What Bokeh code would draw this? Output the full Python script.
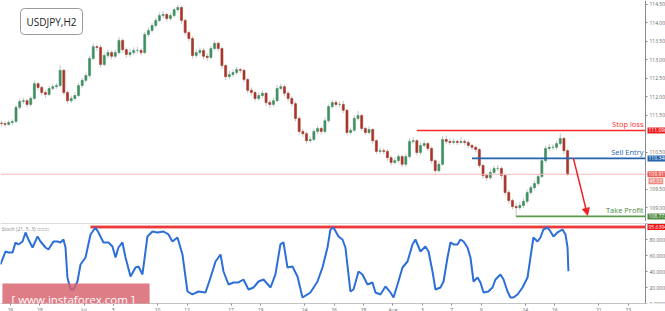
from bokeh.plotting import figure
from bokeh.layouts import column
from bokeh.models import (Range1d, FixedTicker, Label, Arrow, NormalHead, LinearAxis,
                          ColumnDataSource, NumeralTickFormatter, Span)
from bokeh.embed import file_html
from bokeh.resources import INLINE

# ---------------- data (USDJPY, H2 - sampled) ----------------
first_open = 111.30
closes = [111.28, 111.26, 111.31, 111.34, 111.72, 111.88, 111.90, 111.80, 111.96, 112.36,
          112.26, 112.12, 112.07, 112.23, 112.28, 112.31, 112.72, 112.12, 111.90, 111.96,
          112.04, 112.31, 112.45, 112.58, 113.04, 113.36, 113.34, 112.88, 113.12, 113.20,
          113.10, 113.20, 113.53, 113.28, 113.15, 113.20, 113.26, 113.26, 113.20, 113.69,
          113.80, 113.93, 114.07, 114.20, 114.23, 114.12, 114.20, 114.36, 114.42, 114.07,
          113.74, 113.58, 113.12, 113.20, 113.26, 113.10, 113.07, 113.31, 113.45, 113.31,
          112.85, 112.55, 112.61, 112.66, 112.74, 112.72, 112.47, 112.18, 112.12, 111.96,
          112.04, 112.10, 111.85, 111.80, 111.90, 112.23, 112.28, 112.10, 111.96, 111.82,
          111.42, 111.07, 111.01, 110.82, 110.85, 111.07, 111.15, 111.07, 111.36, 111.74,
          111.85, 111.80, 111.80, 111.64, 111.04, 111.10, 111.42, 111.50, 111.15, 111.04,
          111.12, 110.82, 110.53, 110.55, 110.53, 110.36, 110.23, 110.28, 110.39, 110.18,
          110.39, 110.80, 110.82, 110.50, 110.69, 110.74, 110.61, 110.28, 110.01, 110.18,
          110.85, 110.80, 110.77, 110.80, 110.77, 110.80, 110.77, 110.69, 110.64, 110.58,
          110.15, 109.88, 109.82, 109.96, 110.07, 110.07, 109.88, 109.42, 109.20, 109.04,
          109.01, 109.07, 109.18, 109.42, 109.55, 109.66, 109.85, 110.28, 110.61, 110.64,
          110.64, 110.74, 110.88, 110.55, 109.91]
highs = [111.36, 111.34, 111.37, 111.40, 111.78, 111.95, 111.98, 111.95, 112.02, 112.44,
         112.40, 112.30, 112.18, 112.30, 112.35, 112.38, 112.86, 112.76, 112.18, 112.04,
         112.12, 112.38, 112.52, 112.66, 113.12, 113.45, 113.42, 113.40, 113.20, 113.28,
         113.26, 113.28, 113.62, 113.58, 113.34, 113.30, 113.34, 113.36, 113.32, 113.76,
         113.88, 114.00, 114.14, 114.28, 114.32, 114.28, 114.27, 114.42, 114.49, 114.47,
         114.12, 113.80, 113.64, 113.30, 113.34, 113.32, 113.18, 113.38, 113.52, 113.50,
         113.36, 112.90, 112.70, 112.74, 112.82, 112.80, 112.76, 112.52, 112.26, 112.18,
         112.12, 112.18, 112.14, 111.92, 111.98, 112.32, 112.36, 112.34, 112.16, 112.02,
         111.88, 111.48, 111.14, 111.06, 110.94, 111.14, 111.22, 111.20, 111.44, 111.80,
         111.92, 111.92, 111.88, 111.90, 111.68, 111.18, 111.50, 111.62, 111.54, 111.20,
         111.20, 111.16, 110.86, 110.64, 110.62, 110.58, 110.42, 110.36, 110.46, 110.44,
         110.46, 110.88, 110.92, 110.86, 110.76, 110.82, 110.78, 110.66, 110.32, 110.26,
         110.94, 110.96, 110.88, 110.88, 110.86, 110.90, 110.86, 110.82, 110.74, 110.70,
         110.62, 110.20, 109.94, 110.04, 110.14, 110.16, 110.12, 109.92, 109.48, 109.26,
         109.12, 109.16, 109.26, 109.50, 109.62, 109.74, 109.92, 110.36, 110.68, 110.74,
         110.72, 110.82, 111.02, 110.92, 110.60]
lows = [111.20, 111.19, 111.22, 111.24, 111.30, 111.66, 111.82, 111.72, 111.74, 111.92,
        112.18, 112.05, 111.98, 112.02, 112.18, 112.22, 112.26, 112.05, 111.82, 111.84,
        111.90, 112.00, 112.25, 112.38, 112.52, 113.00, 113.25, 112.80, 112.82, 113.05,
        113.02, 113.04, 113.15, 113.20, 113.06, 113.08, 113.14, 113.18, 113.12, 113.16,
        113.62, 113.74, 113.88, 114.02, 114.14, 114.04, 114.06, 114.15, 114.30, 113.98,
        113.66, 113.50, 113.04, 113.06, 113.14, 113.02, 112.98, 113.02, 113.26, 113.24,
        112.76, 112.46, 112.48, 112.54, 112.60, 112.64, 112.40, 112.10, 112.04, 111.88,
        111.90, 111.98, 111.76, 111.70, 111.74, 111.86, 112.18, 112.02, 111.88, 111.74,
        111.34, 110.98, 110.92, 110.74, 110.76, 110.80, 111.00, 110.98, 111.02, 111.30,
        111.68, 111.72, 111.72, 111.56, 110.96, 110.98, 111.06, 111.36, 111.08, 110.96,
        110.98, 110.74, 110.46, 110.46, 110.45, 110.28, 110.15, 110.18, 110.22, 110.10,
        110.12, 110.34, 110.74, 110.42, 110.44, 110.64, 110.54, 110.20, 109.94, 109.96,
        110.14, 110.72, 110.70, 110.72, 110.70, 110.72, 110.70, 110.62, 110.56, 110.50,
        110.08, 109.80, 109.74, 109.76, 109.90, 110.00, 109.80, 109.34, 109.12, 108.96,
        108.77, 108.94, 109.00, 109.12, 109.36, 109.48, 109.60, 109.80, 110.22, 110.54,
        110.56, 110.58, 110.70, 110.46, 109.86]

# stochastic (21,5,3) main line, x in trading days from Jun 26
stoch_x = [-0.68, -0.34, -0.14, 0.14, 0.34, 0.54, 0.82, 1.02, 1.22, 1.50, 1.84, 2.04, 2.38,
           2.58, 2.92, 3.20, 3.40, 3.60, 3.74, 3.87, 4.08, 4.28, 4.55, 4.76, 5.10, 5.44,
           5.78, 5.98, 6.32, 6.66, 6.93, 7.14, 7.34, 7.61, 7.82, 8.16, 8.50, 8.70, 8.97,
           9.31, 9.65, 9.99, 10.40, 10.74, 11.01, 11.35, 11.69, 12.03, 12.37, 12.78, 13.26,
           13.60, 13.94, 14.28, 14.48, 14.82, 15.16, 15.50, 15.84, 16.18, 16.52, 16.86,
           17.20, 17.68, 18.01, 18.35, 18.56, 18.83, 19.17, 19.51, 19.85, 20.19, 20.39,
           20.87, 21.21, 21.55, 21.75, 21.96, 22.30, 22.57, 22.77, 23.11, 23.32, 23.66,
           23.93, 24.27, 24.61, 24.81, 25.15, 25.49, 25.83, 26.04, 26.31, 26.65, 26.99,
           27.33, 27.53, 27.87, 28.21, 28.42, 28.69, 28.89, 29.23, 29.44, 29.71, 29.91,
           30.12, 30.39, 30.59, 30.80, 31.07, 31.27, 31.48, 31.75, 31.95, 32.16, 32.49,
           32.77, 32.97, 33.31, 33.52, 33.79, 33.99, 34.19, 34.47, 34.81, 35.15, 35.35,
           35.55, 35.83, 36.03, 36.23, 36.51, 36.71, 36.91, 37.19, 37.53, 37.73, 37.87, 37.93]
stoch_v = [48.8, 65.0, 63.8, 63.8, 76.3, 73.8, 77.5, 88.8, 80.0, 70.0, 83.8, 77.5, 70.0,
           67.5, 77.5, 77.5, 76.3, 80.0, 70.0, 32.5, 17.5, 17.5, 27.5, 48.8, 57.5, 86.3,
           95.0, 88.8, 76.3, 76.3, 71.3, 57.5, 70.0, 76.3, 57.5, 33.8, 45.0, 46.3, 36.3,
           83.8, 90.0, 88.8, 90.0, 86.3, 77.5, 82.5, 61.3, 15.0, 11.3, 15.0, 13.8,
           32.5, 52.5, 61.3, 40.0, 23.8, 26.3, 26.3, 30.0, 17.5, 20.0, 27.5,
           30.0, 20.0, 36.3, 73.8, 76.3, 45.0, 46.3, 33.8, 7.5, 11.3, 13.8,
           27.5, 45.0, 70.0, 92.5, 95.0, 83.8, 80.0, 70.0, 15.0, 17.5, 40.0,
           36.3, 23.8, 26.3, 13.8, 11.3, 21.3, 13.8, 7.5, 23.8, 45.0, 52.5,
           73.8, 80.0, 65.0, 71.3, 65.0, 40.0, 17.5, 20.0, 27.5, 57.5, 76.3,
           73.8, 73.8, 80.0, 77.5, 70.0, 57.5, 27.5, 32.5, 26.3, 13.8, 15.0,
           20.0, 30.0, 36.3, 30.0, 15.0, 7.5, 7.5, 11.3, 20.0, 32.5, 57.5,
           82.5, 77.5, 82.5, 92.5, 95.0, 90.0, 83.8, 88.8, 92.5, 86.3, 70.0, 40.4]

tick_days = [0, 2, 5, 7, 10, 12, 15, 17, 20, 22, 24, 26, 28, 30, 32, 35, 37, 40, 42]
tick_labels = ["26", "28", "Jul", "5", "10", "12", "17", "19", "24", "26", "28",
               "Aug", "3", "7", "9", "14", "16", "21", "23"]
price_ticks = [109.0, 109.5, 110.5, 111.5, 112.0, 112.5, 113.0, 113.5, 114.0, 114.5]
stoch_ticks = [0, 20, 40, 60, 80, 100]

stop_loss = 111.096
sell_entry = 110.340
take_profit = 108.773
last_price = 109.911
last_stoch_text = "45.03"
stoch_level = 95.6394
sl_start, se_start, tp_start = 113, 128, 140   # candle index where each level line starts
stoch_level_start = 25                          # stoch point index where level line starts

# ---------------- derived ----------------
n = len(closes)
opens = [first_open] + closes[:-1]
xs = [-0.625 + 0.25 * i for i in range(n)]
UP, DN = "#3f8f62", "#a8352a"
cols = [UP if c >= o else DN for o, c in zip(opens, closes)]
src = ColumnDataSource(dict(x=xs, o=opens, c=closes, h=highs, l=lows,
                            top=[max(o, c) for o, c in zip(opens, closes)],
                            bot=[min(o, c) for o, c in zip(opens, closes)],
                            col=cols))

X0, X1 = -0.68, 44.53      # full page width
XA = 43.17                 # where the price scale sits
FONT = "Open Sans"


def style_axis(ax, standoff=2):
    ax.major_label_text_font_size = "5px"
    ax.major_label_text_font = FONT
    ax.major_label_text_color = "#666666"
    ax.axis_line_color = "#8a8a8a"
    ax.major_tick_line_color = "#8a8a8a"
    ax.major_tick_out = 2
    ax.major_tick_in = 0
    ax.minor_tick_line_color = None
    ax.major_label_standoff = standoff


p1 = figure(frame_width=665, frame_height=221, x_range=Range1d(X0, X1),
            y_range=Range1d(108.635, 114.608), y_axis_location=None,
            x_axis_location=None, toolbar_location=None, output_backend="svg",
            min_border=0, background_fill_color="white",
            border_fill_color="white", outline_line_color=None)
p1.grid.visible = False
ya = LinearAxis(fixed_location=XA, ticker=FixedTicker(ticks=price_ticks),
                formatter=NumeralTickFormatter(format="0.000"))
style_axis(ya)
p1.add_layout(ya, "right")

p1.add_layout(Span(location=last_price, dimension="width", line_color="#f6b8b8", line_width=1))

p1.segment("x", "h", "x", "l", source=src, line_color="#c4c4c4", line_width=1)
p1.vbar(x="x", width=0.14, top="top", bottom="bot", source=src,
        fill_color="col", line_color="col", line_width=0.6)

# level lines
p1.segment(x0=[xs[sl_start]], y0=[stop_loss], x1=[XA], y1=[stop_loss], line_color="#ff2a2a", line_width=1.6)
p1.segment(x0=[xs[se_start]], y0=[sell_entry], x1=[XA], y1=[sell_entry], line_color="#2563ad", line_width=1.6)
p1.segment(x0=[xs[tp_start]], y0=[take_profit], x1=[XA], y1=[take_profit], line_color="#5a9a48", line_width=1.6)

p1.add_layout(Arrow(end=NormalHead(size=7, fill_color="#ee2222", line_color="#ee2222"),
                    x_start=38.27, y_start=sell_entry, x_end=39.23, y_end=take_profit + 0.03,
                    line_color="#ee2222", line_width=1.5))

for txt, yy, colr in [("Stop loss", stop_loss, "#ff2a2a"), ("Sell Entry", sell_entry, "#2563ad"),
                      ("Take Profit", take_profit, "#4c8a3c")]:
    p1.add_layout(Label(x=XA, y=yy, x_offset=-2, text=txt, text_align="right", text_baseline="bottom",
                        y_offset=1, text_font=FONT, text_font_size="7.5px", text_color=colr))

for txt, yy, bg in [(f"{stop_loss:.3f}", stop_loss, "#ee2020"), (f"{sell_entry:.3f}", sell_entry, "#2563ad"),
                    (f"{last_price:.3f}", last_price, "#e8625a"), (f"{take_profit:.3f}", take_profit, "#4f8a3e")]:
    p1.add_layout(Label(x=XA, y=yy, text=txt, x_offset=2, text_align="left", text_baseline="middle",
                        text_font=FONT, text_font_size="5px", text_color="white",
                        background_fill_color=bg, padding=1))
p1.add_layout(Label(x=XA, y=last_price, y_offset=-7, x_offset=3, text=last_stoch_text, text_align="left",
                    text_baseline="middle", text_font=FONT, text_font_size="5px", text_color="white",
                    background_fill_color="#ee8a84", padding=1))

# symbol box with a soft shadow
p1.add_layout(Label(x=0.68, y=114.04, x_offset=1.5, y_offset=-1.5, text="USDJPY,H2",
                    text_align="left", text_baseline="middle", text_font=FONT,
                    text_font_size="10px", text_alpha=0.0,
                    background_fill_color="#c8c8c8", border_radius=4, padding=6))
p1.add_layout(Label(x=0.68, y=114.04, text="USDJPY,H2", text_align="left", text_baseline="middle",
                    text_font=FONT, text_font_size="10px", text_color="#222222",
                    background_fill_color="white", border_line_color="#9a9a9a",
                    border_radius=4, padding=6))

# ---------------- stochastic panel ----------------
p2 = figure(frame_width=665, frame_height=80, x_range=p1.x_range, y_range=Range1d(0, 100),
            y_axis_location=None, toolbar_location=None, output_backend="svg",
            min_border=0, min_border_top=2,
            background_fill_color="white", border_fill_color="white", outline_line_color=None)
p2.grid.visible = False
ya2 = LinearAxis(fixed_location=XA, ticker=FixedTicker(ticks=stoch_ticks),
                 formatter=NumeralTickFormatter(format="0.0000"))
style_axis(ya2)
p2.add_layout(ya2, "right")
xa = p2.xaxis[0]
style_axis(xa, standoff=1)
xa.axis_line_color = None
xa.ticker = FixedTicker(ticks=tick_days)
xa.major_label_overrides = {d: t for d, t in zip(tick_days, tick_labels)}

# panel frame lines
p2.add_layout(Span(location=100, dimension="width", line_color="#b5b5b5", line_width=1))
p2.segment(x0=[X0], y0=[0], x1=[XA], y1=[0], line_color="#8a8a8a", line_width=1)

p2.segment(x0=[stoch_x[stoch_level_start]], y0=[stoch_level], x1=[XA], y1=[stoch_level],
           line_color="#f2b0b0", line_width=4)
p2.segment(x0=[stoch_x[stoch_level_start]], y0=[stoch_level], x1=[XA], y1=[stoch_level],
           line_color="#ee1111", line_width=1.6)
p2.line(stoch_x, stoch_v, line_color="#2d6fd9", line_width=2)

p2.add_layout(Label(x=XA, y=stoch_level, text=f"{stoch_level:.4f}", x_offset=2, text_align="left",
                    text_baseline="middle", text_font=FONT, text_font_size="5px", text_color="white",
                    background_fill_color="#ee1111", padding=1))
p2.add_layout(Label(x=-0.6, y=93.5, text="Stoch (21, 5, 3)  \u25a1\u25a1\u25a1\u25a1", text_align="left",
                    text_baseline="middle", text_font=FONT, text_font_size="5px", text_color="#8a8a8a"))
p2.add_layout(Label(x=-0.55, y=4.5, text="[  www.instaforex.com  ]", text_align="left",
                    text_baseline="middle", text_font=FONT, text_font_size="11.5px",
                    text_color="white", background_fill_color="#d8606c", background_fill_alpha=0.82,
                    padding=9))

layout = column(p1, p2, spacing=0)
open("out.html", "w").write(file_html(layout, INLINE))
